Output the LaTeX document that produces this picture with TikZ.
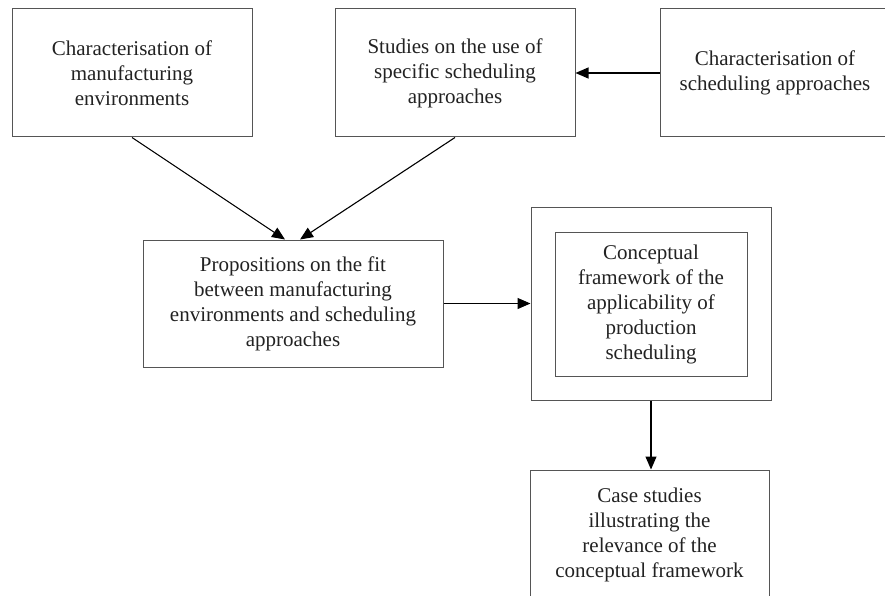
\documentclass[tikz,border=0pt]{standalone}
\usepackage{fontspec}
\setmainfont{Liberation Serif}
\usetikzlibrary{arrows.meta}
\definecolor{boxgray}{HTML}{555555}
\definecolor{txt}{HTML}{222222}
\begin{document}
\begin{tikzpicture}[x=1pt,y=-1pt,
  box/.style={draw=boxgray,line width=1pt,rectangle,align=center,inner sep=0pt,
    text=txt,font=\fontsize{21}{25}\selectfont},
  conn/.style={draw=black,line width=1.1pt,-{Triangle[length=13pt,width=11pt]}}]
\clip (0,0) rectangle (885,596);
\useasboundingbox (0,0) rectangle (885,596);
\node[box,minimum width=240pt,minimum height=128pt] (b1) at (132,73)
  {Characterisation of\\manufacturing\\environments};
\node[box,minimum width=240pt,minimum height=128pt] (b2) at (455,73)
  {Studies on the use of\\specific scheduling\\approaches};
\node[box,minimum width=230pt,minimum height=128pt] (b3) at (775,73)
  {Characterisation of\\scheduling approaches};
\node[box,minimum width=300pt,minimum height=127pt] (b4) at (293,303.5)
  {Propositions on the fit\\between manufacturing\\environments and scheduling\\approaches};
\node[box,minimum width=240pt,minimum height=193pt] (outer) at (651,303.5) {};
\node[box,minimum width=192pt,minimum height=144pt] (inner) at (651,304)
  {Conceptual\\framework of the\\applicability of\\production\\scheduling};
\node[box,minimum width=239pt,minimum height=130pt] (b6) at (649.5,535)
  {Case studies\\illustrating the\\relevance of the\\conceptual framework};
\draw[conn] (b1.south) -- ([xshift=-8pt]b4.north);
\draw[conn] (b2.south) -- ([xshift=7pt]b4.north);
\draw[conn] (b3.west) -- (b2.east);
\draw[conn] (b4.east |- outer.west) -- (outer.west);
\draw[conn] (outer.south) -- (outer.south |- b6.north);
\end{tikzpicture}
\end{document}
